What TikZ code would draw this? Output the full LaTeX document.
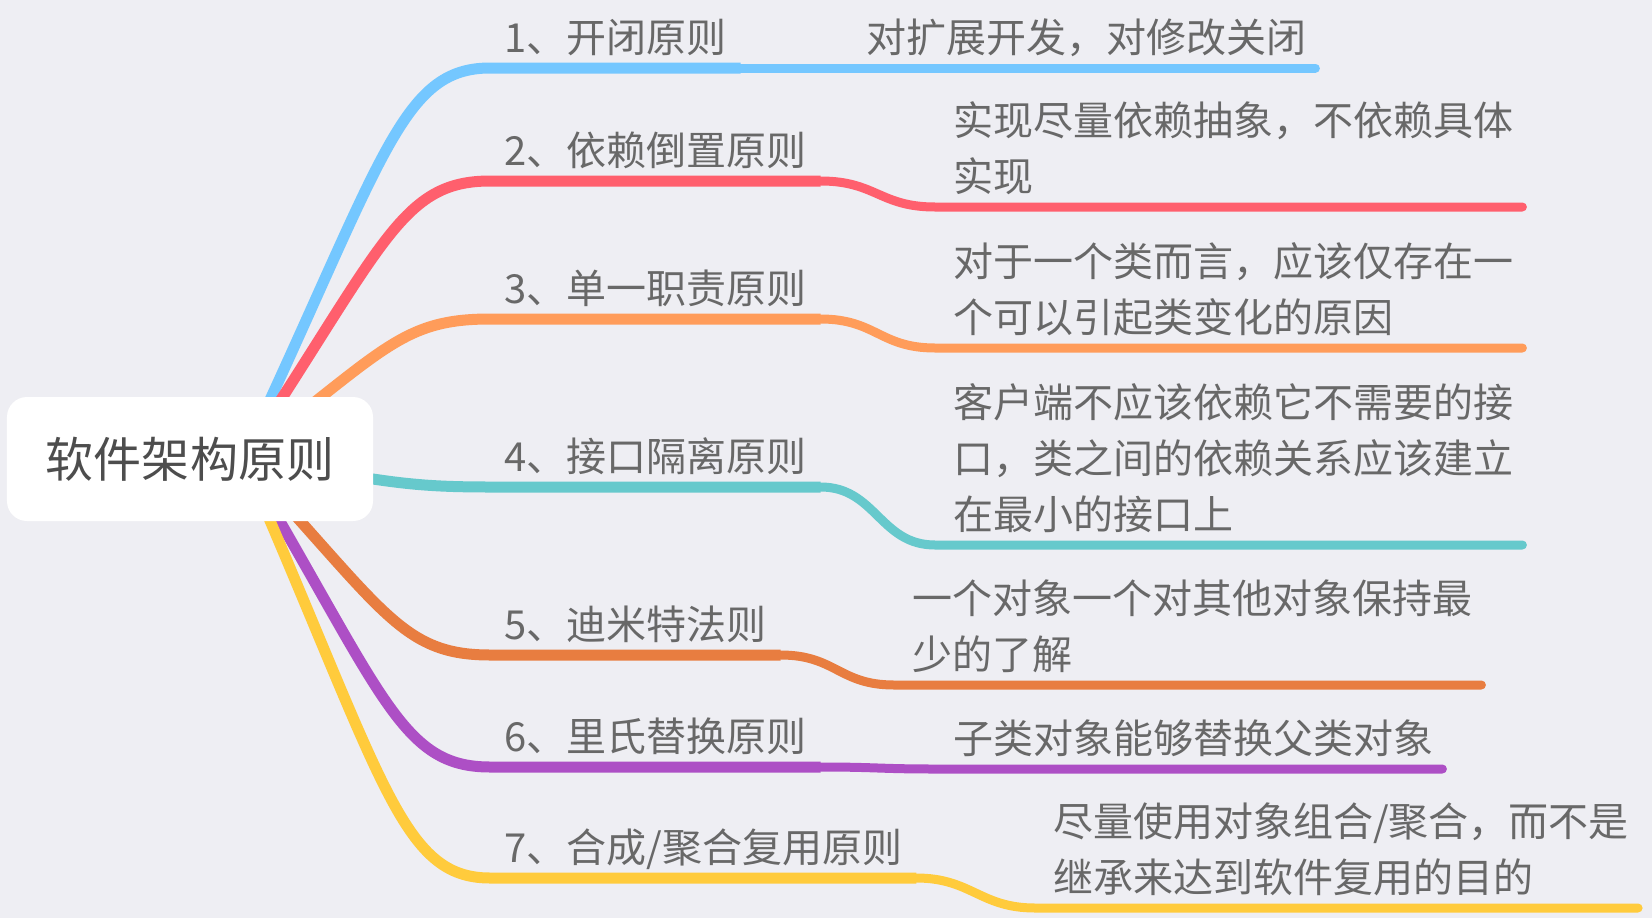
\documentclass[tikz,border=0pt]{standalone}
\usepackage{fontspec}
\setmainfont{Noto Sans CJK SC}
\usetikzlibrary{calc}
\definecolor{bgGray}{RGB}{238,238,243}
\definecolor{txtGray}{RGB}{104,104,104}
\definecolor{rootGray}{RGB}{77,77,77}
\definecolor{cBlue}{RGB}{116,199,255}
\definecolor{cRed}{RGB}{255,95,109}
\definecolor{cOrange}{RGB}{255,156,90}
\definecolor{cTeal}{RGB}{102,201,204}
\definecolor{cBrown}{RGB}{232,125,64}
\definecolor{cPurple}{RGB}{173,79,197}
\definecolor{cYellow}{RGB}{255,203,60}

\begin{document}
\begin{tikzpicture}[x=1bp, y=-1bp,
    topic/.style={anchor=south west, inner xsep=14bp, inner ysep=15bp, text depth=0pt,
      text=txtGray, font=\fontsize{40bp}{56bp}\selectfont},
    sub/.style={topic, align=left, inner xsep=18bp},
    trunk/.style={line width=11bp, line cap=butt},
    twig/.style={line width=9bp, line cap=round, shorten >=9bp}]
  \fill[bgGray] (0,0) rectangle (1652,918);
  \useasboundingbox (0,0) rectangle (1652,918);

  % main topics
  \node[topic] (l1) at (490,68) {1、开闭原则};
  \node[topic] (l2) at (490,181) {2、依赖倒置原则};
  \node[topic] (l3) at (490,319) {3、单一职责原则};
  \node[topic] (l4) at (490,487) {4、接口隔离原则};
  \node[topic] (l5) at (490,655) {5、迪米特法则};
  \node[topic] (l6) at (490,767) {6、里氏替换原则};
  \node[topic] (l7) at (490,878) {7、合成/聚合复用原则};

  % descriptions
  \node[sub] (d1) at (848,68) {对扩展开发，对修改关闭};
  \node[sub] (d2) at (935,207) {实现尽量依赖抽象，不依赖具体\\实现};
  \node[sub] (d3) at (935,348) {对于一个类而言，应该仅存在一\\个可以引起类变化的原因};
  \node[sub] (d4) at (935,545) {客户端不应该依赖它不需要的接\\口，类之间的依赖关系应该建立\\在最小的接口上};
  \node[sub] (d5) at (894,685) {一个对象一个对其他对象保持最\\少的了解};
  \node[sub] (d6) at (935,769) {子类对象能够替换父类对象};
  \node[sub] (d7) at (1035,908) {尽量使用对象组合/聚合，而不是\\继承来达到软件复用的目的};

  \coordinate (hub) at (243,458);
  \foreach \i/\c in {1/cBlue,2/cRed,3/cOrange,4/cTeal,5/cBrown,6/cPurple,7/cYellow} {
    \draw[trunk, \c] let \p1=(hub), \p2=(l\i.south west) in
      (\p1) .. controls (\x1+141bp, {\y1+0.77*(\y2-\y1)}) and (\x2-89bp, \y2) .. (\p2)
      -- (l\i.south east);
    \draw[twig, \c] (l\i.south east) .. controls +(55,0) and +(-55,0) .. (d\i.south west)
      -- (d\i.south east);
  }

  \node[fill=white, rounded corners=20bp, minimum width=366bp, minimum height=124bp,
    text=rootGray, font=\fontsize{48bp}{48bp}\selectfont] (root) at (190,459) {软件架构原则};
\end{tikzpicture}
\end{document}
